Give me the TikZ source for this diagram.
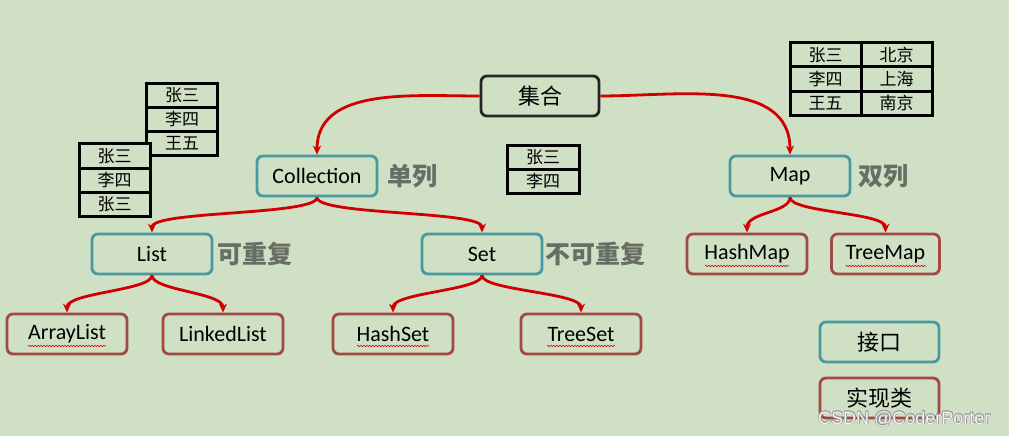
\documentclass[tikz,border=0pt]{standalone}
\usepackage{fontspec}
\setmainfont{Carlito}
\newfontfamily\cjk{Noto Sans CJK SC}
\newfontfamily\wmfont{Liberation Sans}
\usetikzlibrary{arrows.meta,decorations.pathmorphing}
\definecolor{bgc}{RGB}{207,224,197}
\definecolor{ifc}{RGB}{72,153,160}
\definecolor{imc}{RGB}{163,72,66}
\definecolor{arc}{RGB}{208,0,0}
\definecolor{labc}{RGB}{105,110,100}
\begin{document}
\begin{tikzpicture}[x=1pt,y=-1pt,
 box/.style={rounded corners=6pt,line width=2.8pt,minimum width=120pt,minimum height=40pt,inner sep=0pt,font=\fontsize{22}{24}\selectfont},
 iface/.style={box,draw=ifc},
 impl/.style={box,draw=imc},
 rootbox/.style={box,draw=black!85},
 lbl/.style={anchor=west,inner sep=0pt,text=labc,font=\cjk\bfseries\fontsize{25}{27}\selectfont},
 cell/.style={draw=black,fill=bgc,line width=3pt,minimum width=71pt,minimum height=24.3pt,inner sep=0pt,font=\cjk\fontsize{17}{19}\selectfont},
 link/.style={draw=arc,line width=2.8pt,-{Stealth[length=9pt,width=8pt]}},
 squig/.style={draw=red!85!black,line width=0.6pt,decorate,decoration={snake,amplitude=0.7pt,segment length=3pt}},
 wmk/.style={anchor=west,inner sep=0pt,font=\wmfont\fontsize{18}{20}\selectfont}
]
\fill[bgc] (0,0) rectangle (1009,436);
\useasboundingbox (0,0) rectangle (1009,436);

% tables
\node[cell] (t1a) at (182,95.5) {张三};
\node[cell] (t1b) at (182,119.5) {李四};
\node[cell] (t1c) at (182,143.5) {王五};
\node[cell] (t2a) at (114.5,156) {张三};
\node[cell] (t2b) at (114.5,180.3) {李四};
\node[cell] (t2c) at (114.5,204.6) {张三};
\node[cell,minimum width=72pt,minimum height=24pt] (t3a) at (543,157) {张三};
\node[cell,minimum width=72pt,minimum height=24pt] (t3b) at (543,181) {李四};
\node[cell,minimum height=24pt] (t4a) at (825.5,55) {张三};
\node[cell,minimum height=24pt] (t4b) at (896.5,55) {北京};
\node[cell,minimum height=24pt] (t4c) at (825.5,79) {李四};
\node[cell,minimum height=24pt] (t4d) at (896.5,79) {上海};
\node[cell,minimum height=24pt] (t4e) at (825.5,103) {王五};
\node[cell,minimum height=24pt] (t4f) at (896.5,103) {南京};

% nodes
\node[rootbox,minimum width=118pt,font=\cjk\fontsize{22}{24}\selectfont] (root) at (540,96) {集合};
\node[iface] (coll) at (317,176) {Collection};
\node[iface] (map) at (790,176) {Map};
\node[iface] (list) at (152,254) {List};
\node[iface] (set) at (482,254) {Set};
\node[impl] (al) at (67,334) {ArrayList};
\node[impl] (ll) at (223,334) {LinkedList};
\node[impl] (hs) at (393,334) {HashSet};
\node[impl] (ts) at (581,334) {TreeSet};
\node[impl] (hm) at (747,254) {HashMap};
\node[impl,minimum width=108pt] (tm) at (885.5,254) {TreeMap};
\node[iface,minimum width=119pt,font=\cjk\fontsize{22}{24}\selectfont] (lgi) at (879.5,342) {接口};
\node[impl,minimum width=119pt,font=\cjk\fontsize{22}{24}\selectfont] (lgc) at (879.5,398) {实现类};

% labels
\node[lbl] (l1) at (387,176) {单列};
\node[lbl] (l2) at (858,176) {双列};
\node[lbl] (l3) at (217,254) {可重复};
\node[lbl] (l4) at (545,254) {不可重复};

% connectors
\draw[link] (root.west) to[out=180,in=90] (coll.north);
\draw[link] (root.east) to[out=0,in=90] (map.north);
\draw[link] (coll.south) .. controls +(0,18) and +(0,-22) .. (list.north);
\draw[link] (coll.south) .. controls +(0,18) and +(0,-22) .. (set.north);
\draw[link] (list.south) .. controls +(0,15) and +(0,-20) .. (al.north);
\draw[link] (list.south) .. controls +(0,15) and +(0,-20) .. (ll.north);
\draw[link] (set.south) .. controls +(0,15) and +(0,-20) .. (hs.north);
\draw[link] (set.south) .. controls +(0,15) and +(0,-20) .. (ts.north);
\draw[link] (map.south) .. controls +(0,15) and +(0,-20) .. (hm.north);
\draw[link] (map.south) .. controls +(0,15) and +(0,-20) .. (tm.north);

% spell-check squiggles
\draw[squig] (al.center) ++(-39,12) -- ++(78,0);
\draw[squig] (hs.center) ++(-36,12) -- ++(72,0);
\draw[squig] (ts.center) ++(-34,12) -- ++(68,0);
\draw[squig] (hm.center) ++(-42,12) -- ++(84,0);
\draw[squig] (tm.center) ++(-40,12) -- ++(80,0);

% watermark (outlined look)
\node[wmk,text=gray!85] (wm1) at (817.3,418.3) {CSDN @CoderPorter};
\node[wmk,text=gray!85] (wm2) at (818.7,419.7) {CSDN @CoderPorter};
\node[wmk,text=gray!85] (wm3) at (817.3,419.7) {CSDN @CoderPorter};
\node[wmk,text=gray!85] (wm4) at (818.7,418.3) {CSDN @CoderPorter};
\node[wmk,text=white!92!gray] (wm) at (818,419) {CSDN @CoderPorter};
\end{tikzpicture}
\end{document}
